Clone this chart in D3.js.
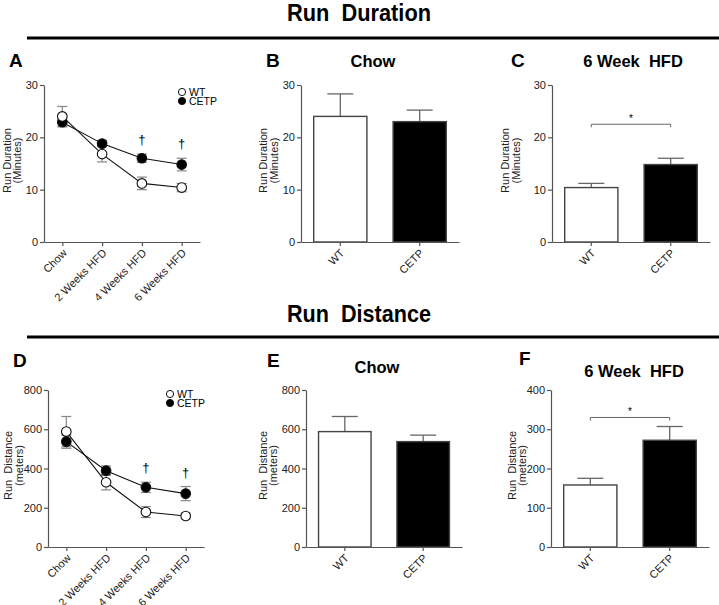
<!DOCTYPE html>
<html>
<head>
    <meta charset="UTF-8">
    <title>Run Duration / Run Distance</title>
    <script src="https://d3js.org/d3.v7.min.js"></script>
    <style>
        body { margin: 0; background: #fff; }
        svg { font-family: Arial, "Liberation Sans", sans-serif; }
        text { white-space: pre; }
        .axis path, .axis line { stroke: #555; stroke-width: 1.2px; }
        .axis text { font-size: 11px; fill: #222; }
    </style>
</head>
<body>
    <svg></svg>
    <script>
        // ---- data ----
        const timepoints = ['Chow', '2 Weeks HFD', '4 Weeks HFD', '6 Weeks HFD'];
        const groups = ['WT', 'CETP'];

        const durWT = [24.0, 16.8, 11.2, 10.4];
        const durWTErr = [1.9, 1.5, 1.2, 0.8];
        const durCETP = [22.9, 18.8, 16.0, 14.8];
        const durCETPErr = [0.9, 0.6, 0.8, 1.2];

        const distWT = [588, 330, 178, 158];
        const distWTErr = [77, 39, 28, 15];
        const distCETP = [537, 389, 304, 272];
        const distCETPErr = [34, 24, 26, 36];

        const dagger = [false, false, true, true];

        const durChow = [24.0, 23.0];
        const durChowErr = [4.3, 2.2];
        const durHFD = [10.4, 14.8];
        const durHFDErr = [0.8, 1.2];
        const distChow = [588, 537];
        const distChowErr = [77, 33];
        const distHFD = [158, 272];
        const distHFDErr = [17, 35];

        const durTicks = [0, 10, 20, 30];
        const distTicks = [0, 200, 400, 600, 800];
        const distHFDTicks = [0, 100, 200, 300, 400];

        const svg = d3.select('svg')
            .attr('width', 719)
            .attr('height', 605);

        // section headers
        function header(label, yText, yLine) {
            svg.append('text')
                .attr('x', 359)
                .attr('y', yText)
                .attr('text-anchor', 'middle')
                .attr('font-size', '24px')
                .attr('font-weight', 'bold')
                .attr('textLength', 144)
                .attr('lengthAdjust', 'spacingAndGlyphs')
                .text(label);
            svg.append('line')
                .attr('x1', 27).attr('x2', 719)
                .attr('y1', yLine).attr('y2', yLine)
                .attr('stroke', '#000')
                .attr('stroke-width', 3);
        }
        header('Run  Duration', 21, 38);
        header('Run  Distance', 322, 337);

        function panelText(t, x, y, size, anchor) {
            svg.append('text')
                .attr('x', x).attr('y', y)
                .attr('text-anchor', anchor || 'start')
                .attr('font-size', size)
                .attr('font-weight', 'bold')
                .text(t);
        }

        function yAxis(p, y, ticks) {
            svg.append('g')
                .attr('class', 'axis')
                .attr('transform', `translate(${p.x0},0)`)
                .call(d3.axisLeft(y).tickValues(ticks).tickSize(4).tickSizeOuter(0).tickPadding(2));
            const mid = (p.y0 + p.y1) / 2 - 3;
            p.ylab.forEach((t, i) => {
                svg.append('text')
                    .attr('transform', `translate(${p.ylabX[i]},${mid}) rotate(-90)`)
                    .attr('text-anchor', 'middle')
                    .attr('dominant-baseline', 'central')
                    .attr('font-size', '11px')
                    .attr('fill', '#222')
                    .text(t);
            });
        }

        function xAxis(x, p) {
            const g = svg.append('g')
                .attr('class', 'axis')
                .attr('transform', `translate(0,${p.y0})`)
                .call(d3.axisBottom(x).tickSize(4).tickSizeOuter(0));
            g.selectAll('.tick text')
                .attr('x', 0).attr('y', 0).attr('dy', '0.35em')
                .attr('transform', 'translate(2,9) rotate(-45)')
                .style('text-anchor', 'end');
        }

        // line panel (A, D)
        function linePanel(p) {
            const x = d3.scalePoint().domain(timepoints).range([p.x0, p.x1]).padding(0.46);
            const y = d3.scaleLinear().domain([0, p.max]).range([p.y0, p.y1]);
            yAxis(p, y, p.ticks);
            xAxis(x, p);

            const series = [
                { v: p.cetp, e: p.cetpErr, fill: '#000' },
                { v: p.wt, e: p.wtErr, fill: '#fff' }
            ];
            const line = d3.line().x((d, i) => x(timepoints[i])).y(d => y(d));
            series.forEach(s => {
                const g = svg.append('g');
                s.v.forEach((v, i) => {
                    const cx = x(timepoints[i]);
                    g.append('line')
                        .attr('x1', cx).attr('x2', cx)
                        .attr('y1', y(v - s.e[i])).attr('y2', y(v + s.e[i]))
                        .attr('stroke', '#888').attr('stroke-width', 1.2);
                    [v - s.e[i], v + s.e[i]].forEach(w => {
                        g.append('line')
                            .attr('x1', cx - 5).attr('x2', cx + 5)
                            .attr('y1', y(w)).attr('y2', y(w))
                            .attr('stroke', '#888').attr('stroke-width', 1.2);
                    });
                });
            });
            series.forEach(s => {
                svg.append('path')
                    .datum(s.v)
                    .attr('d', line)
                    .attr('fill', 'none')
                    .attr('stroke', '#111')
                    .attr('stroke-width', 1.1);
                svg.selectAll(null)
                    .data(s.v)
                    .enter().append('circle')
                    .attr('cx', (d, i) => x(timepoints[i]))
                    .attr('cy', d => y(d))
                    .attr('r', 4.8)
                    .attr('fill', s.fill)
                    .attr('stroke', '#111')
                    .attr('stroke-width', 1.1);
            });

            // daggers above the CETP error bars
            dagger.forEach((d, i) => {
                if (!d) return;
                svg.append('text')
                    .attr('x', x(timepoints[i]))
                    .attr('y', y(p.cetp[i] + p.cetpErr[i]) - 10)
                    .attr('text-anchor', 'middle')
                    .attr('font-size', '13px')
                    .attr('fill', '#000')
                    .text('\u2020');
            });

            // legend
            [['WT', '#fff'], ['CETP', '#000']].forEach(([t, f], i) => {
                const ly = p.legY + i * 9;
                svg.append('line')
                    .attr('x1', p.legX - 4).attr('x2', p.legX + 4)
                    .attr('y1', ly).attr('y2', ly)
                    .attr('stroke', '#111');
                svg.append('circle')
                    .attr('cx', p.legX).attr('cy', ly).attr('r', 3.6)
                    .attr('fill', f).attr('stroke', '#111');
                svg.append('text')
                    .attr('x', p.legX + 7).attr('y', ly)
                    .attr('dominant-baseline', 'central')
                    .attr('font-size', '10.5px')
                    .attr('fill', '#000')
                    .text(t);
            });
        }

        // bar panel (B, C, E, F)
        function barPanel(p) {
            const x = d3.scaleBand().domain(groups).range([p.x0, p.x1])
                .paddingInner(0.33).paddingOuter(0.16);
            const y = d3.scaleLinear().domain([0, p.max]).range([p.y0, p.y1]);
            const fills = ['#fff', '#000'];

            // error whiskers (drawn first so the bar covers the lower part)
            groups.forEach((gname, i) => {
                const cx = x(gname) + x.bandwidth() / 2;
                const top = y(p.vals[i] + p.errs[i]);
                svg.append('line')
                    .attr('x1', cx).attr('x2', cx)
                    .attr('y1', y(p.vals[i])).attr('y2', top)
                    .attr('stroke', '#666').attr('stroke-width', 1.3);
                svg.append('line')
                    .attr('x1', cx - 13).attr('x2', cx + 13)
                    .attr('y1', top).attr('y2', top)
                    .attr('stroke', '#666').attr('stroke-width', 1.3);
            });

            svg.selectAll(null)
                .data(p.vals)
                .enter().append('rect')
                .attr('x', (d, i) => x(groups[i]))
                .attr('y', d => y(d))
                .attr('width', x.bandwidth())
                .attr('height', d => p.y0 - y(d))
                .attr('fill', (d, i) => fills[i])
                .attr('stroke', '#444')
                .attr('stroke-width', 1.4);

            yAxis(p, y, p.ticks);
            xAxis(x, p);

            if (p.sig != null) {
                const xa = x('WT') + x.bandwidth() / 2;
                const xb = x('CETP') + x.bandwidth() / 2;
                const sy = y(p.sig);
                svg.append('path')
                    .attr('d', `M${xa},${sy + 3}V${sy}H${xb}V${sy + 3}`)
                    .attr('fill', 'none')
                    .attr('stroke', '#666')
                    .attr('stroke-width', 1);
                svg.append('text')
                    .attr('x', (xa + xb) / 2)
                    .attr('y', sy - 2)
                    .attr('text-anchor', 'middle')
                    .attr('font-size', '10px')
                    .text('*');
            }
        }

        const topY = { y0: 242, y1: 85 };
        const botY = { y0: 547, y1: 390 };

        linePanel(Object.assign({
            x0: 44, x1: 200, max: 30, ticks: durTicks,
            wt: durWT, wtErr: durWTErr, cetp: durCETP, cetpErr: durCETPErr,
            ylab: ['Run Duration', '(Minutes)'], ylabX: [7, 17],
            legX: 182, legY: 92
        }, topY));

        linePanel(Object.assign({
            x0: 48, x1: 204, max: 800, ticks: distTicks,
            wt: distWT, wtErr: distWTErr, cetp: distCETP, cetpErr: distCETPErr,
            ylab: ['Run  Distance', '(meters)'], ylabX: [8, 18.5],
            legX: 170, legY: 394
        }, botY));

        barPanel(Object.assign({
            x0: 301, x1: 459, max: 30, ticks: durTicks,
            vals: durChow, errs: durChowErr, sig: null,
            ylab: ['Run Duration', '(Minutes)'], ylabX: [263, 274]
        }, topY));

        barPanel(Object.assign({
            x0: 552, x1: 710, max: 30, ticks: durTicks,
            vals: durHFD, errs: durHFDErr, sig: 22.5,
            ylab: ['Run Duration', '(Minutes)'], ylabX: [505, 516]
        }, topY));

        barPanel(Object.assign({
            x0: 306, x1: 462, max: 800, ticks: distTicks,
            vals: distChow, errs: distChowErr, sig: null,
            ylab: ['Run  Distance', '(meters)'], ylabX: [263, 272.5]
        }, botY));

        barPanel(Object.assign({
            x0: 551, x1: 709, max: 400, ticks: distHFDTicks,
            vals: distHFD, errs: distHFDErr, sig: 330,
            ylab: ['Run  Distance', '(meters)'], ylabX: [512, 522]
        }, botY));

        // panel letters and titles
        panelText('A', 9, 67, '19px');
        panelText('B', 266, 67, '19px');
        panelText('C', 511, 67, '19px');
        panelText('D', 13, 367, '19px');
        panelText('E', 267, 367, '19px');
        panelText('F', 519, 365, '19px');
        panelText('Chow', 373, 67, '16.5px', 'middle');
        panelText('6 Week  HFD', 633, 67, '16.5px', 'middle');
        panelText('Chow', 377, 373, '16.5px', 'middle');
        panelText('6 Week  HFD', 634, 377, '16.5px', 'middle');
    </script>
</body>
</html>
